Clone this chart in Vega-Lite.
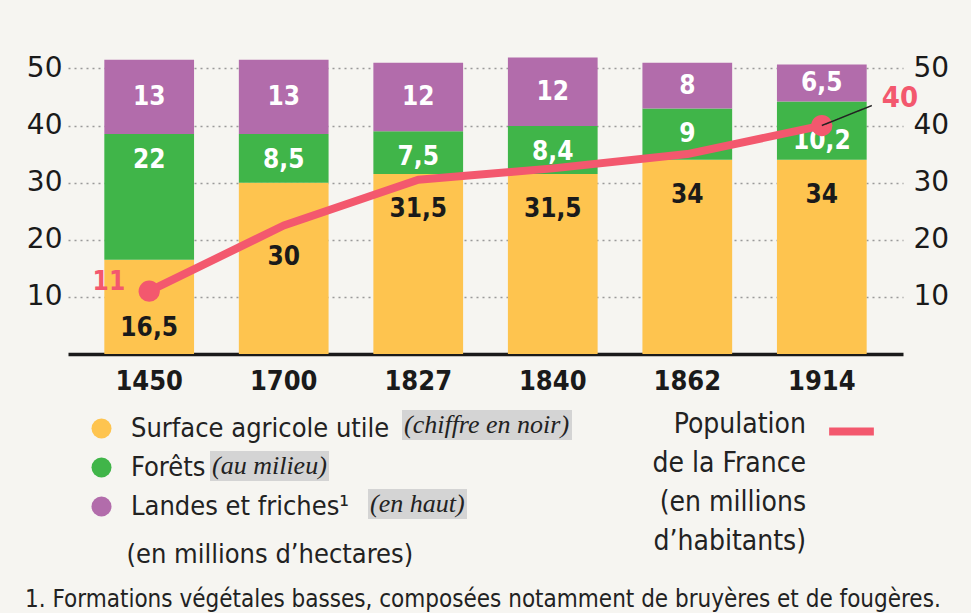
{
  "$schema": "https://vega.github.io/schema/vega-lite/v6.json",
  "width": 835,
  "height": 297,
  "autosize": {"type": "none"},
  "padding": {"left": 68, "top": 57, "right": 68, "bottom": 259},
  "background": "#F6F5F1",
  "config": {"view": {"stroke": null}, "font": "DejaVu Sans Condensed"},
  "title": {
    "text": "1. Formations végétales basses, composées notamment de bruyères et de fougères.",
    "orient": "bottom",
    "anchor": "start",
    "frame": "group",
    "offset": 20,
    "dx": -43,
    "fontSize": 24,
    "fontWeight": "normal",
    "font": "DejaVu Sans Condensed",
    "color": "#222222"
  },
  "datasets": {
    "land": [
      {"year": "1450", "type": "Surface agricole utile", "value": 16.5},
      {"year": "1450", "type": "Forêts", "value": 22},
      {"year": "1450", "type": "Landes et friches¹", "value": 13},
      {"year": "1700", "type": "Surface agricole utile", "value": 30},
      {"year": "1700", "type": "Forêts", "value": 8.5},
      {"year": "1700", "type": "Landes et friches¹", "value": 13},
      {"year": "1827", "type": "Surface agricole utile", "value": 31.5},
      {"year": "1827", "type": "Forêts", "value": 7.5},
      {"year": "1827", "type": "Landes et friches¹", "value": 12},
      {"year": "1840", "type": "Surface agricole utile", "value": 31.5},
      {"year": "1840", "type": "Forêts", "value": 8.4},
      {"year": "1840", "type": "Landes et friches¹", "value": 12},
      {"year": "1862", "type": "Surface agricole utile", "value": 34},
      {"year": "1862", "type": "Forêts", "value": 9},
      {"year": "1862", "type": "Landes et friches¹", "value": 8},
      {"year": "1914", "type": "Surface agricole utile", "value": 34},
      {"year": "1914", "type": "Forêts", "value": 10.2},
      {"year": "1914", "type": "Landes et friches¹", "value": 6.5}
    ],
    "pop": [
      {"year": "1450", "population": 11},
      {"year": "1700", "population": 22.5},
      {"year": "1827", "population": 30.5},
      {"year": "1840", "population": 32.5},
      {"year": "1862", "population": 35},
      {"year": "1914", "population": 40}
    ]
  },
  "encoding": {
    "x": {
      "field": "year",
      "type": "nominal",
      "sort": ["1450", "1700", "1827", "1840", "1862", "1914"],
      "scale": {"paddingInner": 0.333, "paddingOuter": 0.27},
      "axis": {
        "title": null,
        "labelAngle": 0,
        "domain": true,
        "domainColor": "#1a1a1a",
        "domainWidth": 3.5,
        "ticks": false,
        "labelFontSize": 27,
        "labelFontWeight": "bold",
        "labelFont": "DejaVu Sans Condensed",
        "labelColor": "#1a1a1a",
        "labelPadding": 14
      }
    }
  },
  "layer": [
    {
      "data": {"name": "land"},
      "transform": [
        {"calculate": "indexof(['Surface agricole utile','Forêts','Landes et friches¹'], datum.type)", "as": "stackorder"}
      ],
      "layer": [
        {
          "mark": {"type": "bar"},
          "encoding": {
            "y": {
              "field": "value",
              "type": "quantitative",
              "stack": "zero",
              "scale": {"domain": [0, 52], "nice": false},
              "axis": {
                "title": null,
                "orient": "left",
                "values": [10, 20, 30, 40, 50],
                "grid": true,
                "gridDash": [2, 4],
                "gridColor": "#9a9a9a",
                "gridWidth": 1.5,
                "domain": false,
                "ticks": false,
                "labelFontSize": 28,
                "labelFont": "DejaVu Sans",
                "labelColor": "#1a1a1a",
                "labelPadding": 6
              }
            },
            "color": {
              "field": "type",
              "type": "nominal",
              "sort": ["Surface agricole utile", "Forêts", "Landes et friches¹"],
              "scale": {
                "domain": ["Surface agricole utile", "Forêts", "Landes et friches¹"],
                "range": ["#FEC44F", "#40B549", "#B26CAB"]
              },
              "legend": {
                "orient": "none",
                "legendX": 20,
                "legendY": 358,
                "padding": 0,
                "symbolType": "circle",
                "symbolSize": 400,
                "symbolStrokeWidth": 0,
                "labelFontSize": 27,
                "labelFont": "DejaVu Sans Condensed",
                "labelColor": "#222222",
                "labelOffset": 16,
                "rowPadding": 11,
                "title": "\u200b\u00a0\u00a0\u00a0\u00a0\u00a0(en millions d’hectares)",
                "titleOrient": "bottom",
                "titleAnchor": "start",
                "titleFontWeight": "normal",
                "titleFontSize": 27,
                "titleFont": "DejaVu Sans Condensed",
                "titleColor": "#222222",
                "titlePadding": 22,
                "titleLimit": 600,
                "labelLimit": 600
              }
            },
            "strokeDash": {
              "datum": "(chiffre en noir)",
              "scale": {"range": [[1, 0]]},
              "legend": {
                "orient": "none",
                "legendX": 334,
                "legendY": 353,
                "padding": 2,
                "fillColor": "#D4D4D4",
                "title": null,
                "symbolType": "circle",
                "symbolSize": 1,
                "symbolOpacity": 0,
                "symbolStrokeWidth": 0,
                "labelOffset": -26,
                "labelLimit": 400,
                "labelFont": "Liberation Serif",
                "labelFontStyle": "italic",
                "labelFontSize": 26,
                "labelColor": "#222222"
              }
            },
            "order": {"field": "stackorder", "type": "quantitative"}
          }
        },
        {
          "transform": [
            {"stack": "value", "groupby": ["year"], "sort": [{"field": "stackorder"}], "as": ["v0", "v1"]},
            {"calculate": "(datum.v0 + datum.v1) / 2", "as": "mid"},
            {"calculate": "replace(toString(datum.value), '.', ',')", "as": "label"}
          ],
          "layer": [
            {
              "transform": [{"filter": "datum.type == 'Landes et friches¹'"}],
              "mark": {"type": "text", "fontSize": 26, "fontWeight": "bold", "color": "#ffffff", "baseline": "middle"},
              "encoding": {
                "y": {"field": "mid", "type": "quantitative", "title": null},
                "text": {"field": "label"}
              }
            },
            {
              "transform": [{"filter": "datum.type == 'Forêts' && datum.year != '1914'"}],
              "mark": {"type": "text", "fontSize": 26, "fontWeight": "bold", "color": "#ffffff", "baseline": "middle", "dy": 26},
              "encoding": {
                "y": {"field": "v1", "type": "quantitative", "title": null},
                "text": {"field": "label"}
              }
            },
            {
              "transform": [{"filter": "datum.type == 'Forêts' && datum.year == '1914'"}],
              "mark": {"type": "text", "fontSize": 26, "fontWeight": "bold", "color": "#ffffff", "baseline": "middle", "dy": 39},
              "encoding": {
                "y": {"field": "v1", "type": "quantitative", "title": null},
                "text": {"field": "label"}
              }
            },
            {
              "transform": [{"filter": "datum.type == 'Surface agricole utile' && datum.year != '1450' && datum.year != '1700'"}],
              "mark": {"type": "text", "fontSize": 26, "fontWeight": "bold", "color": "#1a1a1a", "baseline": "middle", "dy": 35},
              "encoding": {
                "y": {"field": "v1", "type": "quantitative", "title": null},
                "text": {"field": "label"}
              }
            },
            {
              "transform": [{"filter": "datum.type == 'Surface agricole utile' && datum.year == '1700'"}],
              "mark": {"type": "text", "fontSize": 26, "fontWeight": "bold", "color": "#1a1a1a", "baseline": "middle", "dy": 74},
              "encoding": {
                "y": {"field": "v1", "type": "quantitative", "title": null},
                "text": {"field": "label"}
              }
            },
            {
              "transform": [{"filter": "datum.type == 'Surface agricole utile' && datum.year == '1450'"}],
              "mark": {"type": "text", "fontSize": 26, "fontWeight": "bold", "color": "#1a1a1a", "baseline": "middle", "dy": -26},
              "encoding": {
                "y": {"field": "v0", "type": "quantitative", "title": null},
                "text": {"field": "label"}
              }
            }
          ]
        }
      ]
    },
    {
      "data": {"name": "pop"},
      "layer": [
        {
          "mark": {"type": "line", "strokeWidth": 8, "strokeCap": "round", "strokeJoin": "round"},
          "encoding": {
            "y": {
              "field": "population",
              "type": "quantitative",
              "scale": {"domain": [0, 52], "nice": false},
              "axis": {
                "title": null,
                "orient": "right",
                "values": [10, 20, 30, 40, 50],
                "grid": false,
                "domain": false,
                "ticks": false,
                "labelFontSize": 28,
                "labelFont": "DejaVu Sans",
                "labelColor": "#1a1a1a",
                "labelPadding": 10
              }
            },
            "stroke": {
              "datum": "Population",
              "scale": {"range": ["#F3586E"]},
              "legend": {
                "orient": "none",
                "legendX": 585,
                "legendY": 348,
                "padding": 0,
                "symbolType": "stroke",
                "symbolStrokeWidth": 8,
                "symbolSize": 2000,
                "labelExpr": "''",
                "title": ["Population", "de la France", "(en millions", "d’habitants)"],
                "titleOrient": "left",
                "titleAlign": "right",
                "titleAnchor": "start",
                "titleBaseline": "line-top",
                "titleLineHeight": 39,
                "titleFontWeight": "normal",
                "titleFontSize": 28,
                "titleFont": "DejaVu Sans Condensed",
                "titleColor": "#222222",
                "titlePadding": -135
              }
            }
          }
        },
        {
          "transform": [{"filter": "datum.year == '1450' || datum.year == '1914'"}],
          "mark": {"type": "point", "filled": true, "size": 450, "color": "#F3586E", "opacity": 1},
          "encoding": {
            "y": {"field": "population", "type": "quantitative", "title": null},
            "shape": {
              "datum": "(au milieu)",
              "scale": {"range": ["circle"]},
              "legend": {
                "orient": "none",
                "legendX": 142,
                "legendY": 394,
                "padding": 2,
                "fillColor": "#D4D4D4",
                "title": null,
                "symbolType": "circle",
                "symbolSize": 1,
                "symbolOpacity": 0,
                "symbolStrokeWidth": 0,
                "labelOffset": -26,
                "labelLimit": 400,
                "labelFont": "Liberation Serif",
                "labelFontStyle": "italic",
                "labelFontSize": 26,
                "labelColor": "#222222"
              }
            }
          }
        },
        {
          "transform": [{"filter": "datum.year == '1914'"}],
          "mark": {"type": "rule", "color": "#222222", "strokeWidth": 1.5, "x2Offset": 50, "y2Offset": -20},
          "encoding": {
            "y": {"field": "population", "type": "quantitative", "title": null},
            "x2": {"field": "year"},
            "y2": {"field": "population"},
            "strokeDash": {
              "datum": "(en haut)",
              "scale": {"range": [[1, 0]]},
              "legend": {
                "orient": "none",
                "legendX": 300,
                "legendY": 432,
                "padding": 2,
                "fillColor": "#D4D4D4",
                "title": null,
                "symbolType": "circle",
                "symbolSize": 1,
                "symbolOpacity": 0,
                "symbolStrokeWidth": 0,
                "labelOffset": -26,
                "labelLimit": 400,
                "labelFont": "Liberation Serif",
                "labelFontStyle": "italic",
                "labelFontSize": 26,
                "labelColor": "#222222"
              }
            }
          }
        },
        {
          "transform": [{"filter": "datum.year == '1450'"}],
          "mark": {"type": "text", "fontSize": 26, "fontWeight": "bold", "color": "#F3586E", "align": "right", "baseline": "middle", "dx": -24, "dy": -9},
          "encoding": {
            "y": {"field": "population", "type": "quantitative", "title": null},
            "text": {"field": "population"}
          }
        },
        {
          "transform": [{"filter": "datum.year == '1914'"}],
          "mark": {"type": "text", "fontSize": 29, "fontWeight": "bold", "color": "#F3586E", "align": "left", "baseline": "middle", "dx": 60, "dy": -28},
          "encoding": {
            "y": {"field": "population", "type": "quantitative", "title": null},
            "text": {"field": "population"}
          }
        }
      ]
    }
  ],
  "resolve": {
    "scale": {"y": "independent", "strokeDash": "independent"},
    "axis": {"y": "independent"},
    "legend": {"strokeDash": "independent"}
  }
}
